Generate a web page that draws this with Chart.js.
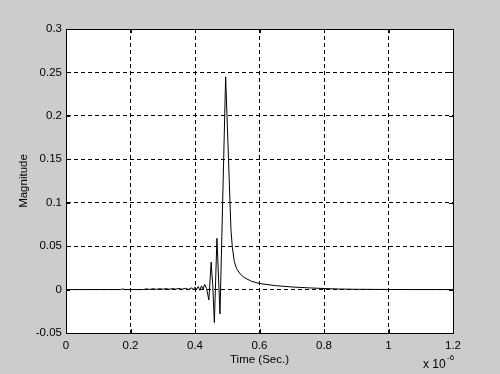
<!DOCTYPE html>
<html lang="en">
<head>
    <meta charset="UTF-8">
    <title>Magnitude vs Time</title>
    <script src="https://cdn.jsdelivr.net/npm/chart.js"></script>
    <style>
        html, body { margin: 0; padding: 0; background: #cccccc; }
        #wrap { width: 500px; height: 374px; }
    </style>
</head>
<body>
    <div id="wrap"><canvas id="magChart" width="500" height="374"></canvas></div>

    <script>
        // time in units of 1e-6 s
        const times = [0, 0.17, 0.175, 0.18, 0.185, 0.24, 0.25, 0.26, 0.27, 0.28, 0.29, 0.30, 0.31, 0.32,
            0.33, 0.34, 0.35, 0.36, 0.37, 0.38, 0.39, 0.395, 0.40, 0.405, 0.41, 0.415, 0.42, 0.425, 0.43,
            0.436, 0.443, 0.450, 0.455, 0.460, 0.468, 0.4775, 0.495, 0.5116, 0.516, 0.522, 0.529, 0.54,
            0.552, 0.575, 0.60, 0.65, 0.70, 0.75, 0.80, 0.85, 0.90, 1.0, 1.1, 1.2];
        const magnitudes = [0, 0, 0.0008, 0.0002, 0, 0, 0.0008, 0.0002, 0.0009, 0.0003, 0.0010, 0.0004, 0.0011, 0.0003,
            0.0012, 0.0005, 0.0013, 0.0004, 0.0014, 0.0002, 0.0020, -0.0005, 0.0028, 0.0003, 0.0035, -0.0008, 0.0042, 0.0005, 0.0060,
            0.0010, -0.012, 0.0315, 0.005, -0.038, 0.059, -0.028, 0.245, 0.068, 0.048, 0.032, 0.024, 0.018,
            0.014, 0.0095, 0.007, 0.0045, 0.003, 0.002, 0.0012, 0.0006, 0.0003, 0.0001, 0, 0];

        const xTicks = [0, 0.2, 0.4, 0.6, 0.8, 1.0, 1.2];
        const xTickLabels = ['0', '0.2', '0.4', '0.6', '0.8', '1', '1.2'];
        const yTicks = [-0.05, 0, 0.05, 0.1, 0.15, 0.2, 0.25, 0.3];
        const yTickLabels = ['-0.05', '0', '0.05', '0.1', '0.15', '0.2', '0.25', '0.3'];

        const fontFamily = '"Liberation Sans", Arial, sans-serif';

        // white plot area, box, inner ticks and the x 10^-6 exponent
        const matlabAxes = {
            id: 'matlabAxes',
            beforeDraw(chart) {
                const a = chart.chartArea, ctx = chart.ctx;
                ctx.save();
                ctx.fillStyle = '#ffffff';
                ctx.fillRect(a.left, a.top, a.right - a.left, a.bottom - a.top);
                ctx.restore();
            },
            afterDraw(chart) {
                const a = chart.chartArea, ctx = chart.ctx;
                const xs = chart.scales.x, ys = chart.scales.y;
                ctx.save();
                ctx.strokeStyle = '#000';
                ctx.lineWidth = 1;
                ctx.setLineDash([]);
                ctx.beginPath();
                xTicks.forEach(v => {
                    const px = Math.round(xs.getPixelForValue(v)) + 0.5;
                    ctx.moveTo(px, a.bottom); ctx.lineTo(px, a.bottom - 4);
                    ctx.moveTo(px, a.top); ctx.lineTo(px, a.top + 4);
                });
                yTicks.forEach(v => {
                    const py = Math.round(ys.getPixelForValue(v)) + 0.5;
                    ctx.moveTo(a.left, py); ctx.lineTo(a.left + 4, py);
                    ctx.moveTo(a.right, py); ctx.lineTo(a.right - 4, py);
                });
                ctx.stroke();
                ctx.strokeRect(Math.round(a.left) + 0.5, Math.round(a.top) + 0.5,
                    Math.round(a.right - a.left), Math.round(a.bottom - a.top));

                ctx.fillStyle = '#000';
                ctx.textBaseline = 'middle';
                ctx.textAlign = 'left';
                ctx.font = '12px ' + fontFamily;
                ctx.fillText('x 10', a.right - 30, a.bottom + 32);
                ctx.font = '8px ' + fontFamily;
                ctx.fillText('-6', a.right - 6, a.bottom + 25);
                ctx.restore();
            }
        };

        const ctx = document.getElementById('magChart').getContext('2d');
        new Chart(ctx, {
            type: 'line',
            data: {
                datasets: [{
                    data: times.map((t, i) => ({ x: t, y: magnitudes[i] })),
                    borderColor: '#000000',
                    borderWidth: 1,
                    pointRadius: 0,
                    tension: 0,
                    fill: false
                }]
            },
            options: {
                responsive: false,
                animation: false,
                layout: { padding: { left: 0, top: 29, right: 47, bottom: 0 } },
                plugins: { legend: { display: false }, tooltip: { enabled: false } },
                scales: {
                    x: {
                        type: 'linear',
                        min: 0,
                        max: 1.2,
                        afterFit: scale => { scale.height = 41; },
                        afterBuildTicks: scale => { scale.ticks = xTicks.map(v => ({ value: v })); },
                        ticks: {
                            color: '#000',
                            padding: 6,
                            maxRotation: 0,
                            font: { family: fontFamily, size: 11.5 },
                            callback: (v, i) => xTickLabels[i]
                        },
                        grid: { color: '#000', lineWidth: 1, drawTicks: false },
                        border: { color: '#000', dash: [4, 3] },
                        title: {
                            display: true,
                            text: 'Time (Sec.)',
                            color: '#000',
                            font: { family: fontFamily, size: 11.5 },
                            padding: { top: 0, bottom: 7 }
                        }
                    },
                    y: {
                        type: 'linear',
                        min: -0.05,
                        max: 0.3,
                        afterFit: scale => { scale.width = 66; },
                        afterBuildTicks: scale => { scale.ticks = yTicks.map(v => ({ value: v })); },
                        ticks: {
                            color: '#000',
                            padding: 4,
                            font: { family: fontFamily, size: 11.5 },
                            callback: (v, i) => yTickLabels[i]
                        },
                        grid: { color: '#000', lineWidth: 1, drawTicks: false },
                        border: { color: '#000', dash: [4, 3] },
                        title: {
                            display: true,
                            text: 'Magnitude',
                            color: '#000',
                            font: { family: fontFamily, size: 11.5 },
                            padding: { top: 17, bottom: 0 }
                        }
                    }
                }
            },
            plugins: [matlabAxes]
        });
    </script>
</body>
</html>
